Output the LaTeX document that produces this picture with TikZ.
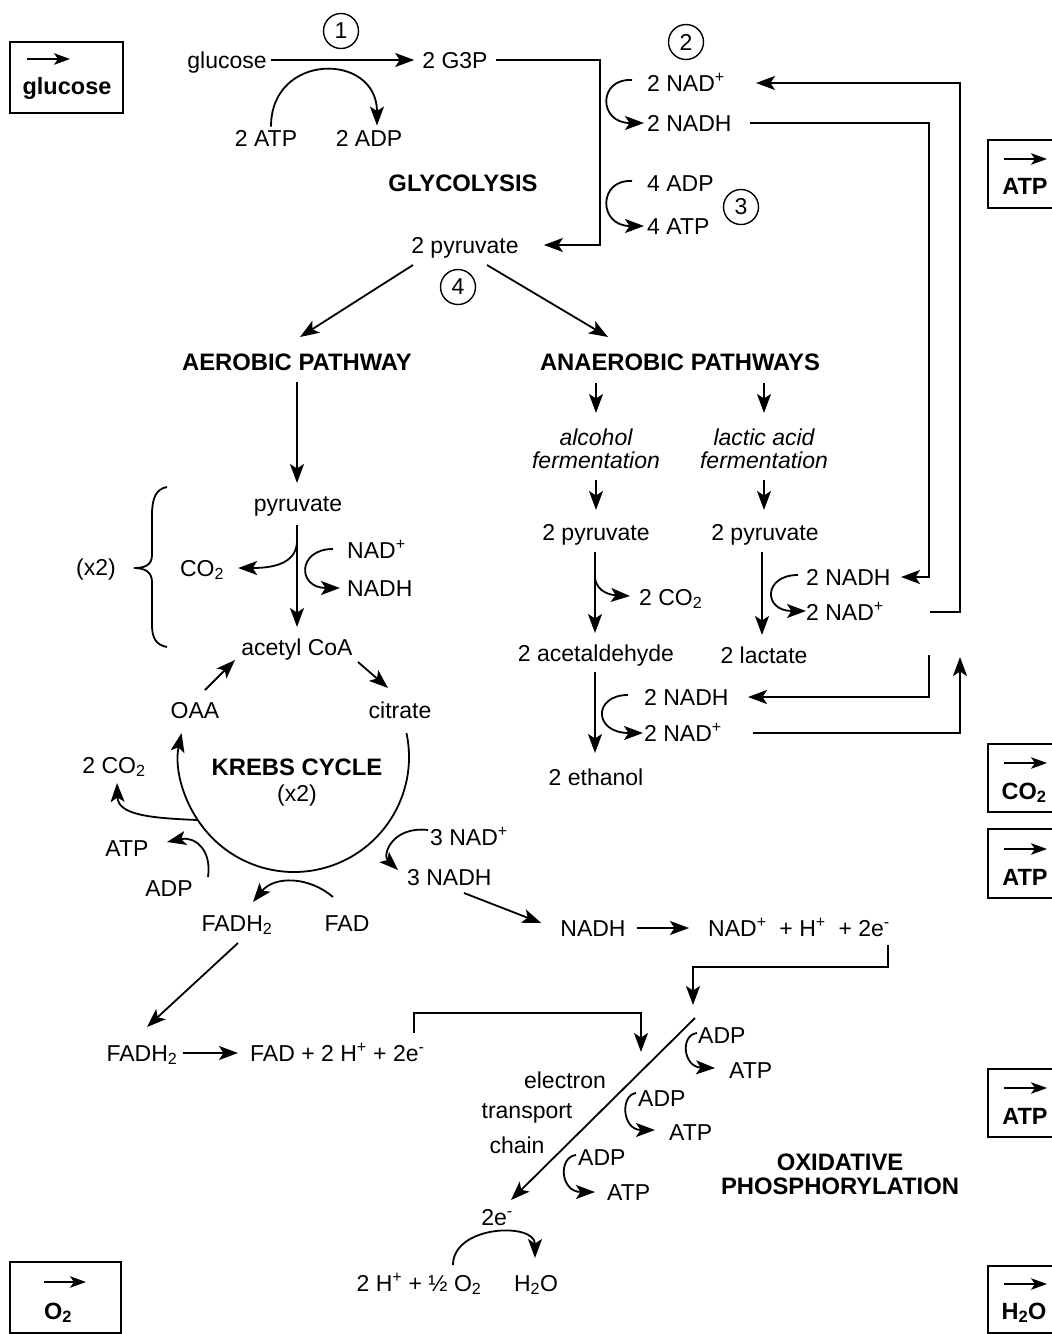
\documentclass[tikz,border=0pt]{standalone}
\usepackage{fontspec}
\setmainfont{Liberation Sans}
\usetikzlibrary{arrows.meta,calc}
\tikzset{
  lbl/.style={font=\fontsize{23}{27}\selectfont, inner sep=0pt, text height=16.5pt, text depth=0pt},
  lw/.style={lbl, anchor=west},
  bld/.style={font=\fontsize{23.8}{24}\selectfont\bfseries, inner sep=0pt, align=center},
  itl/.style={font=\fontsize{23}{23}\selectfont\itshape, inner sep=0pt, align=center},
  ar/.style={line width=1.8pt, -{Stealth[length=19pt,width=14pt,inset=4.5pt]}},
  lar/.style={line width=1.7pt, -{Stealth[length=16pt,width=11.5pt,inset=4pt]}},
  ln/.style={line width=1.8pt},
  numc/.style={circle, draw, line width=1.4pt, minimum size=35pt, inner sep=0pt, font=\fontsize{23}{23}\selectfont},
  legbox/.style={draw, line width=2pt, inner sep=0pt},
  legtxt/.style={font=\fontsize{23.5}{23.5}\selectfont\bfseries, inner sep=0pt, text height=16.5pt, text depth=0pt},
}
\newcommand\sP{\textsuperscript{+}}
\newcommand\sM{\textsuperscript{-}}
\newcommand\sT{\textsubscript{2}}
\begin{document}
\begin{tikzpicture}[x=1pt,y=-1pt]
\useasboundingbox (0,0) rectangle (1052,1334);
\clip (0,0) rectangle (1052,1334);

% ---------- legend boxes ----------
\node[legbox, minimum width=113pt, minimum height=71pt] (lgGlc) at (66.5,77.5) {};
\draw[lar] ($(lgGlc.north west)+(18,18)$) -- ++(43,0);
\node[legtxt] (lgGlcT) at (67,86) {glucose};

\node[legbox, minimum width=82pt, minimum height=68pt] (lgAtpA) at (1029,174) {};
\draw[lar] ($(lgAtpA.north west)+(17,20)$) -- ++(43,0);
\node[legtxt] (lgAtpAT) at (1025,186) {ATP};

\node[legbox, minimum width=82pt, minimum height=68pt] (lgCo) at (1029,778) {};
\draw[lar] ($(lgCo.north west)+(17,20)$) -- ++(43,0);
\node[legtxt] (lgCoT) at (1024,791) {CO\sT};

\node[legbox, minimum width=82pt, minimum height=69pt] (lgAtpB) at (1029,863.5) {};
\draw[lar] ($(lgAtpB.north west)+(17,21)$) -- ++(43,0);
\node[legtxt] (lgAtpBT) at (1025,877) {ATP};

\node[legbox, minimum width=82pt, minimum height=68pt] (lgAtpC) at (1029,1103) {};
\draw[lar] ($(lgAtpC.north west)+(17,20)$) -- ++(43,0);
\node[legtxt] (lgAtpCT) at (1025,1116) {ATP};

\node[legbox, minimum width=82pt, minimum height=67pt] (lgH) at (1029,1299.5) {};
\draw[lar] ($(lgH.north west)+(17,19)$) -- ++(43,0);
\node[legtxt] (lgHT) at (1024,1311) {H\sT O};

\node[legbox, minimum width=111pt, minimum height=71pt] (lgO) at (65.5,1297.5) {};
\draw[lar] ($(lgO.north west)+(35,21)$) -- ++(42,0);
\node[legtxt] (lgOT) at (58,1311) {O\sT};

% ---------- glycolysis ----------
\node[numc] (n1) at (341,31) {1};
\node[numc] (n2) at (686,42) {2};
\node[numc] (n3) at (741,207) {3};
\node[numc] (n4) at (458,287) {4};

\node[lbl] (glc) at (227,60) {glucose};
\node[lbl] (g3p) at (455,60) {2 G3P};
\node[lbl] (atpA) at (266,138) {2 ATP};
\node[lbl] (adpA) at (369,138) {2 ADP};
\node[bld] (glyco) at (463,183) {GLYCOLYSIS};
\node[lbl] (pyr2) at (465,245) {2 pyruvate};
\node[lw] (nadT) at (647,83) {2 NAD\sP};
\node[lw] (nadhT) at (647,123) {2 NADH};
\node[lw] (adpT) at (647,183) {4 ADP};
\node[lw] (atpT) at (647,226) {4 ATP};

\draw[ar] ($(glc.east)+(4,0)$) -- ($(g3p.west)+(-8,0)$);
\coordinate (gTurn) at (600,60);
\draw[ar] ($(g3p.east)+(8,0)$) -- (gTurn) |- ($(pyr2.east)+(25,0)$);
\draw[ar] ($(atpA.north)+(5,-3)$) .. controls (271,52) and (377,52) .. ($(adpA.north)+(8,-4)$);
\draw[ar] ($(nadT.west)+(-15,-3)$) .. controls (598,78) and (598,123) .. ($(nadhT.west)+(-3,0)$);
\draw[ar] ($(adpT.west)+(-15,-2)$) .. controls (598,179) and (598,226) .. ($(atpT.west)+(-3,0)$);

% ---------- branch ----------
\node[bld] (aer) at (297,362) {AEROBIC PATHWAY};
\node[bld] (anaer) at (680,362) {ANAEROBIC PATHWAYS};
\draw[ar] ($(pyr2)+(-52,20)$) -- ($(aer)+(3,-25)$);
\draw[ar] ($(pyr2)+(22,20)$) -- ($(anaer)+(-72,-25)$);

% ---------- anaerobic ----------
\node[itl] (alc) at (596,449) {alcohol\\fermentation};
\node[itl] (lac) at (764,449) {lactic acid\\fermentation};
\node[lbl] (pyrA) at (596,532) {2 pyruvate};
\node[lbl] (pyrL) at (765,532) {2 pyruvate};
\node[lw] (co2A) at (639,597) {2 CO\sT};
\node[lbl] (acet) at (596,653) {2 acetaldehyde};
\node[lbl] (lact) at (764,655) {2 lactate};
\node[lw] (nadhL) at (806,577) {2 NADH};
\node[lw] (nadL) at (806,612) {2 NAD\sP};
\node[lw] (nadhA) at (644,697) {2 NADH};
\node[lw] (nadA) at (644,733) {2 NAD\sP};
\node[lbl] (eth) at (596,777) {2 ethanol};

\draw[ar] ($(anaer)+(-84,21)$) -- ($(alc)+(0,-36)$);
\draw[ar] ($(anaer)+(84,21)$) -- ($(lac)+(0,-36)$);
\draw[ar] ($(alc)+(0,31)$) -- ($(pyrA)+(0,-22)$);
\draw[ar] ($(lac)+(0,31)$) -- ($(pyrL)+(-1,-22)$);
\draw[ar] ($(pyrA)+(-1,20)$) -- ($(acet)+(-1,-20)$);
\draw[ar] ($(acet)+(-1,19)$) -- ($(eth)+(-1,-24)$);
\draw[ar] ($(pyrL)+(-3,20)$) -- ($(lact)+(-2,-20)$);
\draw[ar] ($(pyrA)+(-1,46)$) .. controls (597,593) and (612,595) .. ($(co2A.west)+(-9,-1)$);
\draw[ar] ($(nadhL.west)+(-8,-2)$) .. controls (763,575) and (763,611) .. ($(nadL.west)+(0,-1)$);
\draw[ar] ($(nadhA.west)+(-16,-2)$) .. controls (593,695) and (593,733) .. ($(nadA.west)+(-1,0)$);

% long return lines
\coordinate (rA) at (929,300);
\coordinate (rB) at (960,300);
\coordinate (cA) at (929,655);
\coordinate (cB) at (960,657);
\draw[ar] ($(nadhT.west)+(103,0)$) -| (rA) |- ($(nadhL.west)+(95,0)$);
\draw[ar] ($(nadL.west)+(124,0)$) -| (rB) |- ($(nadT.west)+(109,0)$);
\draw[ar] (cA) |- ($(nadhA.west)+(104,0)$);
\draw[ar] ($(nadA.west)+(109,0)$) -| (cB);

% ---------- aerobic ----------
\node[lbl] (pyr) at (298,503) {pyruvate};
\node[lbl] (co2B) at (202,568) {CO\sT};
\node[lw] (nadB) at (347,550) {NAD\sP};
\node[lw] (nadhB) at (347,588) {NADH};
\node[lbl] (x2) at (96,567) {(x2)};
\node[lbl] (acoa) at (297,647) {acetyl CoA};
\node[lbl] (cit) at (400,710) {citrate};
\node[lbl] (oaa) at (195,710) {OAA};

\draw[ar] ($(aer)+(0,20)$) -- ($(pyr)+(-1,-20)$);
\draw[ar] ($(pyr)+(-1,22)$) -- ($(acoa)+(0,-20)$);
\draw[ar] ($(pyr)+(-1,39)$) .. controls (296,565) and (270,568) .. ($(co2B.east)+(14,0)$);
\draw[ar] ($(nadB.west)+(-14,-1)$) .. controls (297,549) and (297,588) .. ($(nadhB.west)+(-7,0)$);
\draw[ln] ($(x2.east)+(18,1)$) .. controls (145,568) and (152,565) .. (152,555) -- (152,515)
  .. controls (152,498) and (156,489) .. (167,487);
\draw[ln] ($(x2.east)+(18,1)$) .. controls (145,568) and (152,572) .. (152,582) -- (152,625)
  .. controls (152,638) and (156,645) .. (167,647);

\draw[ar] ($(acoa)+(61,15)$) -- ($(cit)+(-12,-22)$);
\draw[ar] ($(oaa)+(10,-20)$) -- ($(acoa)+(-62,13)$);

% ---------- Krebs ----------
\coordinate (kc) at (294,757);
\node[bld] (krebs) at (297,767) {KREBS CYCLE};
\node[lbl] (kx2) at (297,793) {(x2)};
\draw[ar] ($(kc)+(12:115pt)$) arc[start angle=12, end angle=-192, radius=115pt];

\node[lbl] (co2C) at (114,765) {2 CO\sT};
\node[lbl] (atpK) at (127,848) {ATP};
\node[lbl] (adpK) at (169,888) {ADP};
\node[lbl] (fadh) at (237,923) {FADH\sT};
\node[lbl] (fad) at (347,923) {FAD};
\node[lw] (nad3) at (430,837) {3 NAD\sP};
\node[lw] (nadh3) at (407,877) {3 NADH};

\draw[ar] ($(kc)+(-97,63)$) .. controls (150,818) and (118,815) .. ($(co2C)+(3,18)$);
\draw[ar] ($(adpK)+(39,-11)$) .. controls (212,850) and (195,836) .. ($(atpK)+(40,-6)$);
\draw[ar] ($(fad)+(-14,-26)$) .. controls (310,877) and (275,875) .. ($(fadh)+(16,-21)$);
\draw[ar] ($(nad3.west)+(-2,-7)$) .. controls (392,826) and (382,855) .. ($(nadh3.west)+(-9,-7)$);

% ---------- NADH / FADH2 to ETC ----------
\node[lbl] (nadhE) at (593,928) {NADH};
\node[lw] (prod) at (708,928) {NAD\sP\ \ + H\sP\ \ + 2e\sM};
\node[lbl] (fadh2) at (142,1053) {FADH\sT};
\node[lw] (prodF) at (250,1053) {FAD + 2 H\sP\ + 2e\sM};

\draw[ar] ($(nadh3.west)+(57,16)$) -- ($(nadhE.west)+(-19,-5)$);
\draw[ar] ($(nadhE.east)+(11,0)$) -- ($(prod.west)+(-19,0)$);
\coordinate (etcIn) at (693,1005);
\coordinate (etcIn2) at (641,1052);
\draw[ar] ($(prod.west)+(180,17)$) -- ++(0,22) -| (etcIn);
\draw[ar] ($(fadh)+(1,20)$) -- ($(fadh2)+(5,-26)$);
\draw[ar] ($(fadh2.east)+(5,0)$) -- ($(prodF.west)+(-12,0)$);
\draw[ar] ($(prodF.west)+(164,-20)$) -- ++(0,-20) -| (etcIn2);

% ---------- ETC ----------
\coordinate (etcA) at (695,1018);
\node[lbl] (e2) at (497,1217) {2e\sM};
\draw[ar] (etcA) -- ($(e2)+(14,-17)$);
\node[lbl] (el) at (565,1080) {electron};
\node[lbl] (tr) at (527,1110) {transport};
\node[lbl] (ch) at (517,1145) {chain};
\node[lw] (adp1) at (698,1035) {ADP};
\node[lw] (atp1) at (729,1070) {ATP};
\node[lw] (adp2) at (638,1098) {ADP};
\node[lw] (atp2) at (669,1132) {ATP};
\node[lw] (adp3) at (578,1157) {ADP};
\node[lw] (atp3) at (607,1192) {ATP};
\draw[ar] ($(adp1.west)+(-1,-2)$) .. controls (680,1035) and (683,1067) .. ($(atp1.west)+(-14,-2)$);
\draw[ar] ($(adp2.west)+(-2,-5)$) .. controls (620,1095) and (622,1130) .. ($(atp2.west)+(-14,-2)$);
\draw[ar] ($(adp3.west)+(-2,-2)$) .. controls (558,1157) and (560,1192) .. ($(atp3.west)+(-12,0)$);
\node[bld] (oxph) at (840,1174) {OXIDATIVE\\PHOSPHORYLATION};

\node[lbl] (hO) at (419,1283) {2 H\sP\ + \textonehalf\ O\sT};
\node[lbl] (h2o) at (536,1283) {H\sT O};
\draw[ar] ($(hO)+(34,-18)$) .. controls (453,1225) and (535,1222) .. ($(h2o)+(-1,-25)$);
\end{tikzpicture}
\end{document}
